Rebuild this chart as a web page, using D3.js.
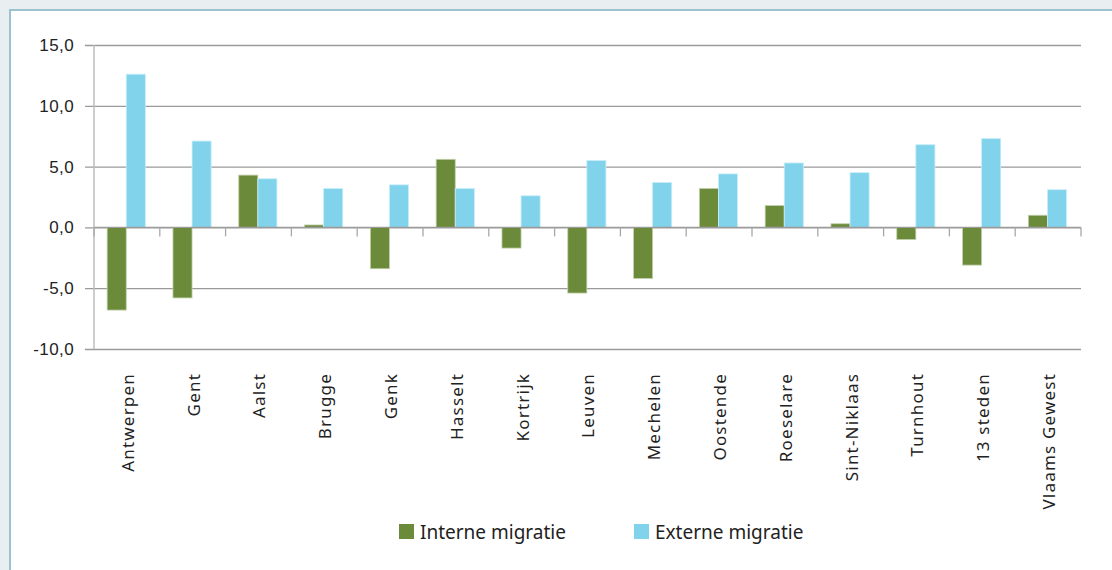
<!DOCTYPE html>
<html>
<head>
<meta charset="utf-8">
<script src="https://cdn.jsdelivr.net/npm/d3@7"></script>
<style>
  html, body { margin: 0; padding: 0; background: #e9eef1; }
  svg { display: block; font-family: "Noto Sans", "Open Sans", sans-serif; }
</style>
</head>
<body>
<div id="chart"></div>
<script>
const categories = [
  "Antwerpen", "Gent", "Aalst", "Brugge", "Genk", "Hasselt", "Kortrijk",
  "Leuven", "Mechelen", "Oostende", "Roeselare", "Sint-Niklaas", "Turnhout",
  "13 steden", "Vlaams Gewest",
];
const interneMigratie = [-6.8, -5.8, 4.3, 0.2, -3.4, 5.6, -1.7, -5.4, -4.2, 3.2, 1.8, 0.3, -1.0, -3.1, 1.0];
const externeMigratie = [12.6, 7.1, 4.0, 3.2, 3.5, 3.2, 2.6, 5.5, 3.7, 4.4, 5.3, 4.5, 6.8, 7.3, 3.1];
const seriesNames = ["Interne migratie", "Externe migratie"];
const seriesColors = ["#6b8b3a", "#81d2eb"];
const yTicks = [-10, -5, 0, 5, 10, 15];

const width = 1112;
const height = 570;
const plot = { left: 94, right: 1081, top: 45, bottom: 349 };

const svg = d3.select("#chart")
  .append("svg")
  .attr("width", width)
  .attr("height", height);

// white panel with the light blue border
svg.append("rect")
  .attr("x", 10)
  .attr("y", 10)
  .attr("width", width + 20)
  .attr("height", height + 20)
  .attr("fill", "#ffffff")
  .attr("stroke", "#9cc2d0")
  .attr("stroke-width", 2);

const x = d3.scaleBand()
  .domain(categories)
  .range([plot.left, plot.right])
  .padding(0);

const x1 = d3.scaleBand()
  .domain(seriesNames)
  .range([x.bandwidth() * 0.2, x.bandwidth() * 0.78])
  .padding(0);

const y = d3.scaleLinear()
  .domain([-10, 15])
  .range([plot.bottom, plot.top]);

// gridlines + y labels in one axis, drawn from the right edge leftwards
const yAxis = svg.append("g")
  .attr("transform", `translate(${plot.right},0)`)
  .call(
    d3.axisLeft(y)
      .tickValues(yTicks)
      .tickSize(plot.right - plot.left + 9)
      .tickPadding(11)
      .tickFormat((d) => d3.format(".1f")(d).replace(".", ",").replace("−", "-"))
  );
yAxis.select(".domain").remove();
yAxis.selectAll(".tick line")
  .attr("stroke", "#9a9a9a")
  .attr("stroke-width", 1.3);
yAxis.selectAll(".tick text")
  .attr("fill", "#222")
  .attr("font-size", "17px")
  .attr("letter-spacing", "0.4px");

// vertical axis line
svg.append("line")
  .attr("x1", plot.left)
  .attr("x2", plot.left)
  .attr("y1", y(15))
  .attr("y2", y(-10))
  .attr("stroke", "#bdbdbd")
  .attr("stroke-width", 1.5);

// bars
const groups = svg.append("g")
  .selectAll("g")
  .data(categories)
  .join("g")
  .attr("transform", (d) => `translate(${x(d)},0)`);

groups.selectAll("rect")
  .data((d, i) => [
    { key: seriesNames[0], value: interneMigratie[i], color: seriesColors[0] },
    { key: seriesNames[1], value: externeMigratie[i], color: seriesColors[1] },
  ])
  .join("rect")
  .attr("x", (d) => x1(d.key))
  .attr("width", x1.bandwidth())
  .attr("y", (d) => y(Math.max(0, d.value)))
  .attr("height", (d) => Math.abs(y(d.value) - y(0)))
  .attr("fill", (d) => d.color)
  .attr("stroke", (d) => (d.key === seriesNames[0] ? "#c3d0ad" : "#c8eef8"))
  .attr("stroke-width", 0.8);

// zero line over the bars
svg.append("line")
  .attr("x1", plot.left)
  .attr("x2", plot.right)
  .attr("y1", y(0))
  .attr("y2", y(0))
  .attr("stroke", "#9a9a9a")
  .attr("stroke-width", 1.3);

// category separator ticks below the zero line
const boundaries = categories.map((c) => x(c)).concat([plot.right]);
svg.append("g")
  .selectAll("line")
  .data(boundaries)
  .join("line")
  .attr("x1", (d) => d)
  .attr("x2", (d) => d)
  .attr("y1", y(0))
  .attr("y2", y(0) + 9)
  .attr("stroke", "#a8a8a8")
  .attr("stroke-width", 1.3);

// rotated category labels
svg.append("g")
  .selectAll("text")
  .data(categories)
  .join("text")
  .attr("transform", (d) => `translate(${x(d) + x.bandwidth() / 2 + 1},373) rotate(-90)`)
  .attr("dy", "0.35em")
  .attr("text-anchor", "end")
  .attr("font-size", "17px")
  .attr("letter-spacing", "1.2px")
  .attr("fill", "#222")
  .text((d) => d);

// legend
const legend = svg.append("g")
  .selectAll("g")
  .data(seriesNames)
  .join("g")
  .attr("transform", (d, i) => `translate(${399 + i * 235},524)`);

legend.append("rect")
  .attr("width", 15)
  .attr("height", 15)
  .attr("fill", (d, i) => seriesColors[i]);

legend.append("text")
  .attr("x", 21)
  .attr("y", 15)
  .attr("font-size", "19px")
  .attr("fill", "#222")
  .text((d) => d);
</script>
</body>
</html>
